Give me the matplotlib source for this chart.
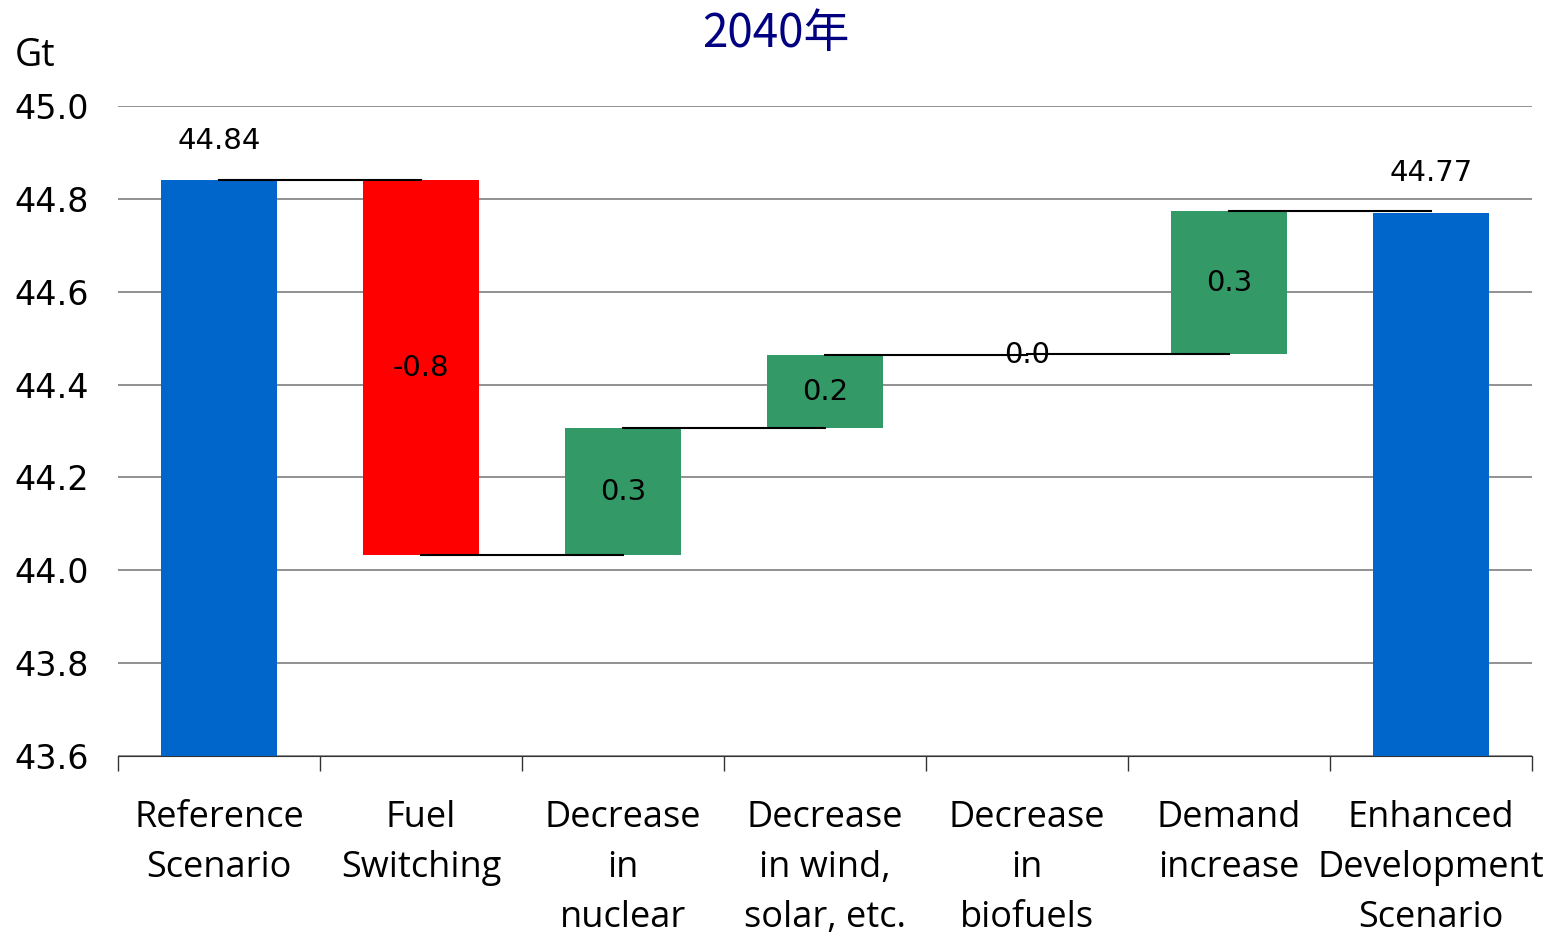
import numpy as np
import matplotlib.pyplot as plt

plt.rcParams['font.family'] = ['Open Sans', 'Noto Sans CJK JP', 'DejaVu Sans']

categories = ["Reference\nScenario", "Fuel\nSwitching", "Decrease\nin\nnuclear",
              "Decrease\nin wind,\nsolar, etc.", "Decrease\nin\nbiofuels",
              "Demand\nincrease", "Enhanced\nDevelopment\nScenario"]
reference_total = 44.84
changes = [-0.807, 0.273, 0.157, 0.003, 0.307]
enhanced_total = 44.77

BLUE = "#0066CC"
RED = "#FF0000"
GREEN = "#339966"
NUM_FONT = ['DejaVu Sans']


def main():
    # running totals for the waterfall steps
    levels = [reference_total]
    for c in changes:
        levels.append(levels[-1] + c)

    fig = plt.figure(figsize=(15.48, 9.32), dpi=100)
    ax = fig.add_axes([0.0762, 0.1888, 0.9135, 0.6975])
    ymin, ymax = 43.6, 45.0
    x = np.arange(len(categories))
    width = 0.575

    # totals
    ax.bar(x[0], reference_total - ymin, bottom=ymin, width=width, color=BLUE, zorder=3)
    ax.bar(x[-1], enhanced_total - ymin, bottom=ymin, width=width, color=BLUE, zorder=3)
    for xi, total in [(x[0], reference_total), (x[-1], enhanced_total)]:
        ax.text(xi, total + 0.085, f"{total:.2f}", ha='center', va='center',
                fontsize=21, family=NUM_FONT)

    # step bars
    for i, c in enumerate(changes):
        start = levels[i]
        color = RED if c < 0 else GREEN
        ax.bar(x[i + 1], c, bottom=start, width=width, color=color, zorder=3)
        ax.text(x[i + 1], start + c / 2, f"{c:.1f}", ha='center', va='center',
                fontsize=21, family=NUM_FONT, zorder=5)

    # connector lines between bar centres
    ends = levels + [enhanced_total]
    for i in range(len(categories) - 1):
        ax.plot([x[i], x[i + 1]], [ends[i], ends[i]], color='black', lw=1.5, zorder=4)

    ax.set_ylim(ymin, ymax)
    ax.set_xlim(-0.5, len(categories) - 0.5)
    yticks = np.arange(43.6, 45.01, 0.2)
    ax.set_yticks(yticks)
    ax.set_yticklabels([f"{v:.1f}" for v in yticks], fontsize=24, family=NUM_FONT)
    ax.tick_params(axis='y', length=0, pad=21)
    ax.grid(axis='y', color='#888888', lw=1.3, zorder=0)

    ax.set_xticks(x)
    ax.set_xticklabels(categories, fontsize=26, linespacing=1.51, va='top')
    ax.tick_params(axis='x', which='major', length=0, pad=32)
    ax.set_xticks(np.arange(-0.5, len(categories), 1.0), minor=True)
    ax.tick_params(axis='x', which='minor', length=11, width=1, color='#333333')

    for side in ['top', 'right', 'left']:
        ax.spines[side].set_visible(False)
    ax.spines['bottom'].set_color('#333333')

    fig.text(0.0097, 0.94, "Gt", fontsize=27, va='center', ha='left')
    fig.text(0.501, 0.964, "2040年", fontsize=33, color='#000080', ha='center', va='center',
             family=['Noto Sans CJK JP'])

    fig.savefig("out.png", dpi=100)


if __name__ == "__main__":
    main()
